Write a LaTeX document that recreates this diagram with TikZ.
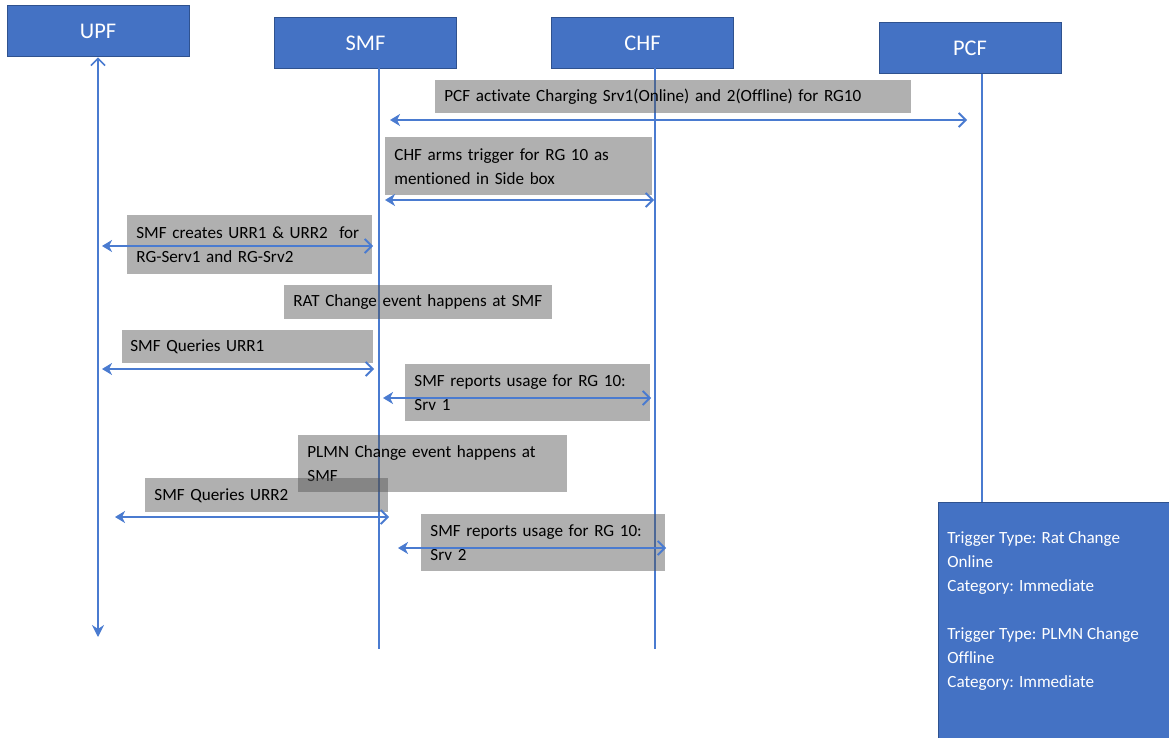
\documentclass[tikz,border=0pt]{standalone}
\usepackage{fontspec}
\setmainfont{Carlito}[Ligatures=NoCommon]
\usetikzlibrary{arrows.meta}
\definecolor{obox}{HTML}{4472C4}
\definecolor{oedge}{HTML}{2F528F}
\definecolor{oline}{HTML}{4A7BD0}
\definecolor{gbox}{RGB}{82,82,82}
\begin{document}
\begin{tikzpicture}[x=0.5pt,y=-0.5pt,
  ent/.style={draw=oedge, fill=obox, text=white, line width=0.5pt,
    minimum width=91pt, minimum height=25.5pt, inner sep=0pt,
    font=\fontsize{11.2}{13}\selectfont},
  life/.style={draw=oline, line width=0.75pt},
  msg/.style={draw=oline, line width=0.9pt,
    {Stealth[length=5pt,width=6pt,inset=1.5pt]}-{Straight Barb[length=3.5pt,width=7pt]}},
  gnote/.style 2 args={anchor=north west, fill=gbox, fill opacity=0.46,
    text opacity=1, text=black, inner xsep=4.5pt, inner ysep=0pt,
    align=left, text width=#1, minimum height=#2,
    font=\fontsize{8.55}{12}\selectfont},
  side/.style={anchor=north west, draw=oedge, fill=obox, line width=0.5pt,
    minimum width=115.5pt, minimum height=118pt, inner sep=0pt},
  sidetxt/.style={anchor=north west, text=white, align=left, inner sep=0pt,
    font=\fontsize{8.55}{12}\selectfont}
]
\useasboundingbox (0,0) rectangle (1169,738);

% entities
\node[ent] (upf) at (98,31.5) {UPF};
\node[ent] (smf) at (365.5,43) {SMF};
\node[ent] (chf) at (642.5,43) {CHF};
\node[ent] (pcf) at (970,48.5) {PCF};

% side box
\node[side] (sidebox) at (938,502) {};
\node[sidetxt] (sidetext) at (947,531) {Trigger Type: Rat Change\\Online\\Category: Immediate\\[12pt]Trigger Type: PLMN Change\\Offline\\Category: Immediate};

% lifeline end points
\coordinate (upfend) at (98,637);
\coordinate (smftop) at (379,68.5);
\coordinate (smfend) at (379,649);
\coordinate (chftop) at (655,68.5);
\coordinate (chfend) at (655,649);
\coordinate (pcftop) at (982,74);

\draw[life, {Stealth[length=6pt,width=6pt,inset=2pt]}-{Straight Barb[length=3.5pt,width=7pt]}] (upfend) -- (upf.south);
\draw[life] (smftop) -- (smfend);
\draw[life] (chftop) -- (chfend);
\draw[life] (pcftop) -- (sidebox.north -| pcftop);

% notes
\node[gnote={229pt}{16.5pt}] (n1) at (435,80) {PCF activate Charging Srv1(Online) and 2(Offline) for RG10};
\node[gnote={124.5pt}{29pt}] (n2) at (385,137) {CHF arms trigger for RG 10 as\\mentioned in Side box};
\node[gnote={113.5pt}{29.5pt}] (n3) at (127,215) {SMF creates URR1 \& URR2 \ for\\RG-Serv1 and RG-Srv2};
\node[gnote={125pt}{17pt}] (n4) at (284,285) {RAT Change event happens at SMF};
\node[gnote={117.5pt}{16.5pt}, inner xsep=4pt] (n5) at (122,330) {SMF Queries URR1};
\node[gnote={113.5pt}{28.5pt}] (n6) at (405,364) {SMF reports usage for RG 10:\\Srv 1};
\node[gnote={125.5pt}{28.5pt}] (n7) at (298,435) {PLMN Change event happens at\\SMF};
\node[gnote={112.5pt}{17pt}] (n8) at (145,478) {SMF Queries URR2};
\node[gnote={113pt}{28.5pt}] (n9) at (421,514) {SMF reports usage for RG 10:\\Srv 2};

% message end points
\coordinate (m1a) at (390,120);  \coordinate (m1b) at (967,120);
\coordinate (m2a) at (385,200);  \coordinate (m2b) at (654,200);
\coordinate (m3a) at (102,246);  \coordinate (m3b) at (373,246);
\coordinate (m5a) at (102,369);  \coordinate (m5b) at (374,369);
\coordinate (m6a) at (383,398);  \coordinate (m6b) at (651,398);
\coordinate (m8a) at (115,517);  \coordinate (m8b) at (389,517);
\coordinate (m9a) at (398,548);  \coordinate (m9b) at (666,548);

\draw[msg] (m1a) -- (m1b);
\draw[msg] (m2a) -- (m2b);
\draw[msg] (m3a) -- (m3b);
\draw[msg] (m5a) -- (m5b);
\draw[msg] (m6a) -- (m6b);
\draw[msg] (m8a) -- (m8b);
\draw[msg] (m9a) -- (m9b);
\end{tikzpicture}
\end{document}
